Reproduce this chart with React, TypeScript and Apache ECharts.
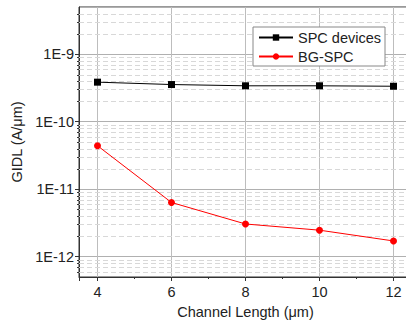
import React, { useEffect, useRef } from "react";
import * as echarts from "echarts";

const channelLengths = [4, 6, 8, 10, 12];
const spcDevices = [3.85e-10, 3.55e-10, 3.4e-10, 3.4e-10, 3.35e-10];
const bgSpc = [4.4e-11, 6.35e-12, 3.05e-12, 2.47e-12, 1.71e-12];
const xRange = [3.5, 12.5];
const yRange = [5e-13, 5e-9];
const minorMultipliers = [2, 3, 4, 5, 6, 7, 8, 9];
const decadeExponents = [-13, -12, -11, -10, -9];

const FONT = "'Liberation Sans', Arial, sans-serif";

export default function App() {
  const ref = useRef<HTMLDivElement>(null);
  useEffect(() => {
    if (!ref.current) return;
    const chart = echarts.init(ref.current, null, { renderer: "svg" });
    const minorValues: number[][] = [];
    decadeExponents.forEach((e) => {
      minorMultipliers.forEach((m) => {
        const v = m * Math.pow(10, e);
        if (v > yRange[0] * 1.0001 && v < yRange[1] * 0.9999) minorValues.push([channelLengths[0], v]);
      });
    });
    const fmt = (v: number) => v.toExponential(0).toUpperCase();
    chart.setOption({
      animation: false,
      backgroundColor: "#fff",
      textStyle: { fontFamily: FONT },
      grid: {
        left: 79,
        top: 7,
        right: 8,
        bottom: 47,
        show: true,
        borderColor: "#333",
        borderWidth: 1,
      },
      legend: {
        data: ["SPC devices", "BG-SPC"],
        orient: "vertical",
        left: 253,
        top: 27,
        padding: [2, 4, 1, 5],
        itemGap: 2,
        itemWidth: 34,
        itemHeight: 8,
        backgroundColor: "#fff",
        borderColor: "#888",
        borderWidth: 1,
        borderRadius: 0,
        textStyle: { fontSize: 14.5, color: "#222", fontFamily: FONT, lineHeight: 17 },
      },
      xAxis: {
        type: "value",
        min: xRange[0],
        max: xRange[1],
        splitNumber: 5,
        name: "Channel Length (\u03bcm)",
        nameLocation: "middle",
        nameGap: 27,
        nameTextStyle: { fontSize: 14.5, color: "#222", fontFamily: FONT },
        axisLine: { show: true, lineStyle: { color: "#333", width: 1 } },
        axisTick: { show: true, inside: false, length: 4, lineStyle: { color: "#333" } },
        minorTick: { show: true, splitNumber: 2, length: 2, lineStyle: { color: "#333" } },
        axisLabel: {
          fontSize: 14.5,
          color: "#222",
          margin: 7,
          showMinLabel: false,
          showMaxLabel: false,
          fontFamily: FONT,
        },
        splitLine: { show: true, lineStyle: { color: "#bdbdbd", width: 1 } },
      },
      yAxis: {
        type: "log",
        logBase: 10,
        min: yRange[0],
        max: yRange[1],
        name: "GIDL (A/\u03bcm)",
        nameLocation: "middle",
        nameGap: 55,
        nameTextStyle: { fontSize: 14.5, color: "#222", fontFamily: FONT },
        axisLine: { show: true, lineStyle: { color: "#333", width: 1 } },
        axisTick: { show: true, inside: false, length: 4, lineStyle: { color: "#333" } },
        axisLabel: {
          fontSize: 14.5,
          color: "#222",
          margin: 5,
          showMinLabel: false,
          showMaxLabel: false,
          fontFamily: FONT,
          formatter: (v: number) => fmt(v),
        },
        splitLine: { show: true, lineStyle: { color: "#b0b0b0", width: 1 } },
      },
      series: [
        {
          name: "minor",
          type: "custom",
          silent: true,
          z: 1,
          data: minorValues,
          renderItem: (params: any, api: any) => {
            const cs = params.coordSys;
            const p = api.coord([api.value(0), api.value(1)]);
            const y = Math.round(p[1]) + 0.5;
            return {
              type: "group",
              children: [
                {
                  type: "line",
                  shape: { x1: cs.x, y1: y, x2: cs.x + cs.width, y2: y },
                  style: { stroke: "#d8d8d8", lineWidth: 1, lineDash: [5, 3] },
                },
                {
                  type: "line",
                  shape: { x1: cs.x - 2, y1: y, x2: cs.x, y2: y },
                  style: { stroke: "#333", lineWidth: 1 },
                },
              ],
            };
          },
        },
        {
          name: "SPC devices",
          type: "line",
          z: 3,
          data: channelLengths.map((x, i) => [x, spcDevices[i]]),
          symbol: "rect",
          symbolSize: 7,
          itemStyle: { color: "#000" },
          lineStyle: { color: "#000", width: 1 },
        },
        {
          name: "BG-SPC",
          type: "line",
          z: 3,
          data: channelLengths.map((x, i) => [x, bgSpc[i]]),
          symbol: "circle",
          symbolSize: 7,
          itemStyle: { color: "#ff0000" },
          lineStyle: { color: "#ff0000", width: 1 },
        },
      ],
    });
    return () => chart.dispose();
  }, []);
  return (
    <div
      ref={ref}
      style={{ position: "fixed", left: 0, top: 0, width: 420, height: 324 }}
    />
  );
}
